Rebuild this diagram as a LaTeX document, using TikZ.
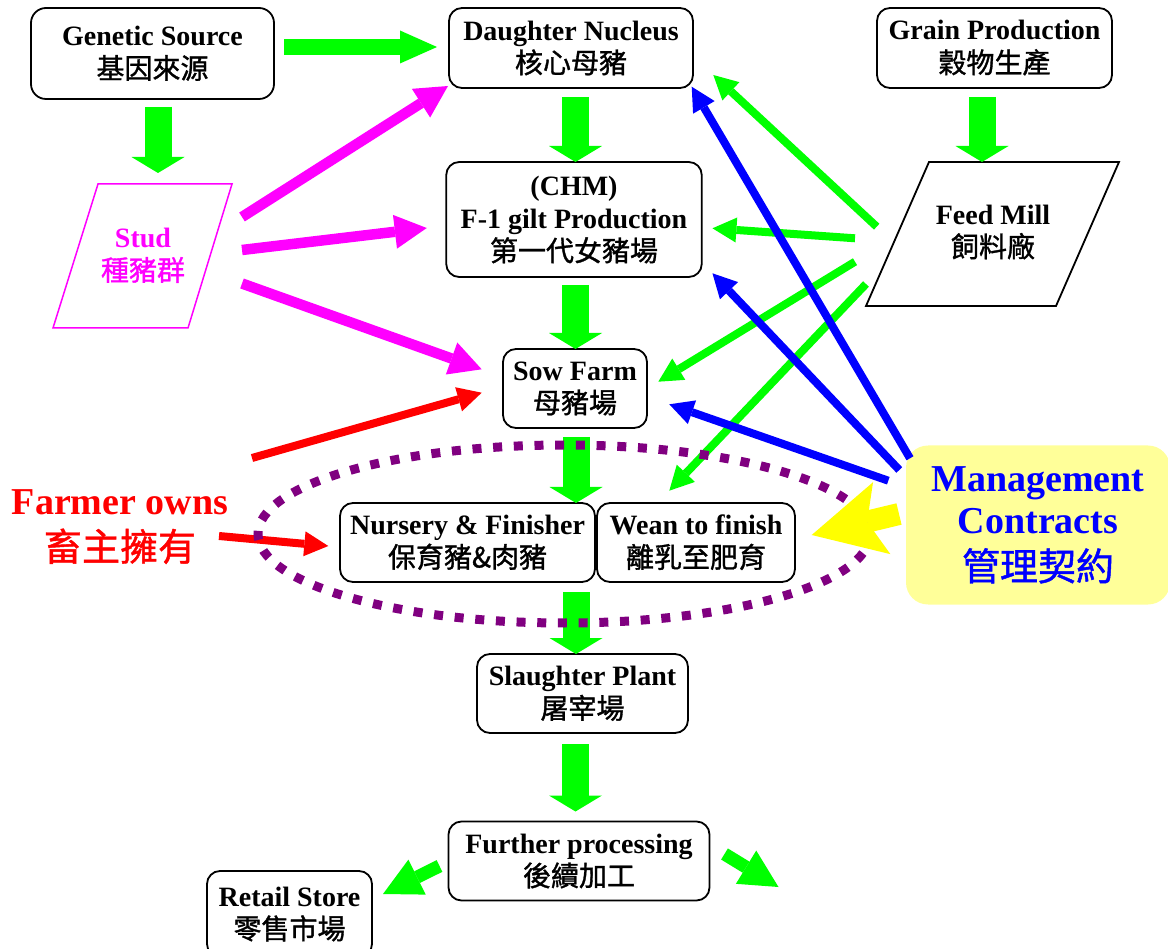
\documentclass[tikz,border=0pt]{standalone}
\usepackage{fontspec}
\setmainfont{Liberation Serif}
\newfontfamily\cjkfont[UprightFeatures={FakeBold=1.2}]{Noto Sans CJK TC}
\newcommand\zhtxt[1]{{\cjkfont\mdseries #1}}
\usetikzlibrary{arrows.meta,calc}
\definecolor{cgreen}{RGB}{0,255,0}
\definecolor{cmag}{RGB}{255,0,255}
\definecolor{cblue}{RGB}{0,0,255}
\definecolor{cred}{RGB}{255,0,0}
\definecolor{cpurple}{RGB}{128,0,128}
\definecolor{cyellow}{RGB}{255,255,0}
\definecolor{cpale}{RGB}{255,255,153}
\begin{document}
\begin{tikzpicture}[x=1pt,y=-1pt,
  box/.style={draw=black,fill=white,line width=1.8pt,rounded corners=13pt,align=center,inner sep=0pt,outer sep=0pt,font=\fontsize{28}{33}\selectfont\bfseries,execute at begin node={\rule{0pt}{24pt}}},
  plain/.style={align=center,inner sep=0pt,font=\fontsize{28}{33}\selectfont\bfseries},
  gbig/.style={cgreen,line width=27pt,-{Triangle[width=53pt,length=16pt,line width=0pt 0 0]}},
  ghor/.style={cgreen,line width=16pt,-{Triangle[width=33pt,length=37pt,line width=0pt 0 0]}},
  gdiag/.style={cgreen,line width=13pt,-{Triangle[width=39pt,length=38pt,line width=0pt 0 0]}},
  magarrow/.style={cmag,line width=10.5pt,-{Triangle[width=34pt,length=32pt,line width=0pt 0 0]}},
  redarrow/.style={cred,line width=8pt,-{Triangle[width=25pt,length=24pt,line width=0pt 0 0]}},
  thinarrow/.style={line width=8pt,-{Triangle[width=25pt,length=24pt,line width=0pt 0 0]}},
  yarrow/.style={cyellow,line width=22pt,-{Stealth[width=74pt,length=72pt,inset=15pt,line width=0pt 0 0]}},
  ellip/.style={cpurple,line width=9pt,dash pattern=on 9pt off 11.7pt}
]
\path[use as bounding box] (0,0) rectangle (1168,949);

% boxes
\node[box,minimum width=243pt,minimum height=91pt,rounded corners=15pt] (gen) at (152.5,53.5) {Genetic Source\\\zhtxt{基因來源}};
\node[box,minimum width=244pt,minimum height=80pt] (dn) at (571,48) {Daughter Nucleus\\\zhtxt{核心母豬}};
\node[box,minimum width=235pt,minimum height=80pt] (gp) at (994.5,48) {Grain Production\\\zhtxt{穀物生產}};
\node[box,minimum width=255.5pt,minimum height=115pt] (f1) at (574,219.5) {(CHM)\\F-1 gilt Production\\\zhtxt{第一代女豬場}};
\node[box,minimum width=144pt,minimum height=79pt] (sow) at (575,388.5) {Sow Farm\\\zhtxt{母豬場}};
\node[box,minimum width=255pt,minimum height=79pt] (nur) at (467.5,542.5) {Nursery \& Finisher\\\zhtxt{保育豬\&肉豬}};
\node[box,minimum width=198pt,minimum height=79pt] (wean) at (696,542.5) {Wean to finish\\\zhtxt{離乳至肥育}};
\node[box,minimum width=211pt,minimum height=79pt] (sl) at (582.5,693.5) {Slaughter Plant\\\zhtxt{屠宰場}};
\node[box,minimum width=261pt,minimum height=79pt] (fp) at (579,861) {Further processing\\\zhtxt{後續加工}};
\node[box,minimum width=165pt,minimum height=86pt] (rs) at (289.5,914) {Retail Store\\\zhtxt{零售市場}};

% stud
\draw[cmag,line width=1.5pt] (98,184) -- (232,184) -- (188,328) -- (53,328) -- cycle;
\node[plain,text=cmag] (stud) at (143,255.5) {Stud\\\zhtxt{種豬群}};
\coordinate (studtop) at (158,184);

% feed mill
\draw[black,line width=1.8pt,fill=white] (929,162) -- (1119,162) -- (1056,306) -- (866,306) -- cycle;
\node[plain] (fm) at (993,232) {Feed Mill\\\zhtxt{飼料廠}};
\coordinate (fmtop) at (982,162);

% management contracts
\node[fill=cpale,rounded corners=22pt,minimum width=264pt,minimum height=159pt,inner sep=0pt,align=center,text=cblue,font=\fontsize{38}{42}\selectfont\bfseries] (mc) at (1038,525) {Management\\Contracts\\[5pt]\zhtxt{管理契約}};

% farmer owns
\node[align=center,inner sep=0pt,text=cred,font=\fontsize{38}{46}\selectfont\bfseries] (fo) at (120,527) {Farmer owns\\\zhtxt{畜主擁有}};

% big green arrows
\draw[ghor] ($(gen.east)+(10,-6.5)$) -- ($(dn.west)+(-12,-1)$);
\draw[gbig] ($(gen.south)+(5.5,8)$) -- ($(studtop)+(0,-11)$);
\draw[gbig] ($(dn.south)+(4.5,9)$) -- ($(f1.north)+(1.5,0)$);
\draw[gbig] ($(f1.south)+(1.5,8)$) -- ($(sow.north)+(0.5,0)$);
\draw[gbig] ($(sow.south)+(1,9)$) -- ($(nur.north east)!0.5!(wean.north west)+(-20,0)$);
\draw[gbig] ($(nur.south east)!0.5!(wean.south west)+(-20,10)$) -- ($(sl.north)+(-6.5,0)$);
\draw[gbig] ($(sl.south)+(-7,11)$) -- ($(fp.north)+(-3.5,-10)$);
\draw[gbig] ($(gp.south)+(-12.5,9)$) -- (fmtop);
\draw[gdiag] ($(fp.west)+(-9,5)$) -- ($(rs.north east)+(11,23)$);
\coordinate (outlet) at ($(fp.east)+(69,26)$);
\draw[gdiag] ($(fp.east)+(15,-7)$) -- (outlet);

% magenta arrows
\draw[magarrow] ($(stud)+(99,-38.5)$) -- ($(dn.south west)+(-1,-2)$);
\draw[magarrow] ($(stud)+(99,-5.5)$) -- ($(f1.west)+(-19.5,8.5)$);
\draw[magarrow] ($(stud)+(99,28)$) -- ($(sow.west)+(-21.3,-19.2)$);

% red arrows
\draw[redarrow] ($(fo)+(132,-69)$) -- ($(sow.west)+(-21.3,4.2)$);
\draw[redarrow] ($(fo)+(99,9)$) -- ($(nur.west)+(-11.7,3.5)$);

% thin green arrows from feed mill
\draw[thinarrow,cgreen] ($(fm)+(-116.3,-5.3)$) -- ($(dn.east)+(20.3,27)$);
\draw[thinarrow,cgreen] ($(fm)+(-138,6.3)$) -- ($(f1.east)+(10.7,8.8)$);
\draw[thinarrow,cgreen] ($(fm)+(-138,29.7)$) -- ($(sow.east)+(11.3,-6.8)$);
\draw[thinarrow,cgreen] ($(fm)+(-127,52)$) -- ($(wean.north)+(-26.7,-12.3)$);

% blue arrows from management contracts
\draw[thinarrow,cblue] ($(mc)+(-128,-66.7)$) -- ($(dn.south east)+(-1.3,-1.3)$);
\draw[thinarrow,cblue] ($(mc)+(-138.7,-55)$) -- ($(f1.south east)+(10.7,-3.7)$);
\draw[thinarrow,cblue] ($(mc)+(-149.7,-44.3)$) -- ($(sow.east)+(22.3,15.8)$);

% dotted ellipse
\draw[ellip] (564,534) ellipse [x radius=306, y radius=89];

% yellow arrow
\draw[yarrow] ($(mc)+(-139,-11)$) -- ($(wean.east)+(16.7,-7.5)$);
\end{tikzpicture}
\end{document}
